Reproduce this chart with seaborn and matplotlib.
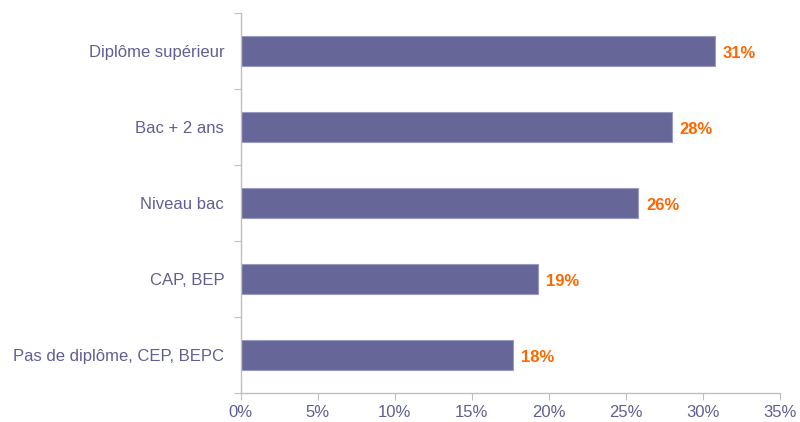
import numpy as np
import pandas as pd
import matplotlib
matplotlib.use("Agg")
import matplotlib.pyplot as plt
import seaborn as sns
from matplotlib.ticker import FuncFormatter

# données
categories = ["Diplôme supérieur", "Bac + 2 ans", "Niveau bac", "CAP, BEP",
              "Pas de diplôme, CEP, BEPC"]
valeurs = [30.8, 28.0, 25.8, 19.3, 17.7]
etiquettes = ["31%", "28%", "26%", "19%", "18%"]

df = pd.DataFrame({"cat": categories, "val": valeurs})

sns.set_style("white")
plt.rcParams['font.family'] = ['Arial', 'Liberation Sans', 'DejaVu Sans']

txt_col = "#5F5F93"
axe_col = "#BFBFBF"

fig = plt.figure(figsize=(8, 4.22), dpi=100)
ax = fig.add_axes([0.301, 0.069, 0.674, 0.9])

sns.barplot(data=df, x="val", y="cat", order=categories, color="#666699",
            saturation=1, width=0.4, ax=ax)
for p in ax.patches:
    p.set_edgecolor("#9A9AC0")
    p.set_linewidth(0.8)

# étiquettes de valeur
for i, (v, lab) in enumerate(zip(valeurs, etiquettes)):
    ax.text(v + 0.5, i + 0.03, lab, va="center", ha="left", color="#FF6600",
            fontsize=12, fontweight="bold")

ax.set_xlim(0, 35)
ax.set_ylim(len(categories) - 0.5, -0.5)
ax.set_xticks(np.arange(0, 36, 5))
ax.xaxis.set_major_formatter(FuncFormatter(lambda x, pos: f"{x:.0f}%"))
ax.set_xlabel("")
ax.set_ylabel("")

# graduations y aux limites des catégories
ax.set_yticks(np.arange(-0.5, len(categories), 1))
ax.set_yticklabels([])
ax.set_yticks(np.arange(len(categories)), minor=True)
ax.set_yticklabels(categories, minor=True)
ax.tick_params(axis="y", which="major", length=5, color=axe_col, direction="out", left=True)
ax.tick_params(axis="y", which="minor", length=0, labelsize=12, labelcolor=txt_col, pad=12)
ax.tick_params(axis="x", length=5, color=axe_col, direction="out", bottom=True,
               labelsize=12, labelcolor=txt_col, pad=4)

for s in ["top", "right"]:
    ax.spines[s].set_visible(False)
for s in ["left", "bottom"]:
    ax.spines[s].set_color(axe_col)
    ax.spines[s].set_linewidth(1)

plt.savefig("out.png", dpi=100)
